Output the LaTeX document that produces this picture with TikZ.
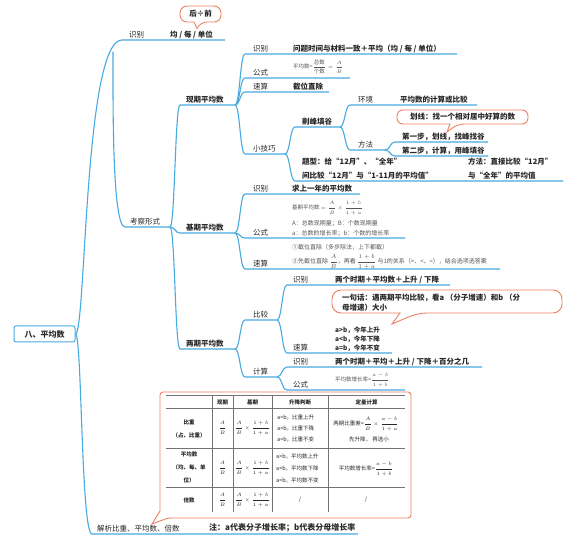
\documentclass[tikz,border=0pt]{standalone}
\usepackage{fontspec}
\usepackage{amsmath}
\setmainfont{Noto Sans CJK SC}
\usetikzlibrary{calc}
\definecolor{mblue}{RGB}{72,170,226}
\definecolor{morange}{RGB}{236,130,100}
\definecolor{tc}{RGB}{40,40,40}
\definecolor{tg}{RGB}{85,85,85}
\begin{document}
\begin{tikzpicture}[x=1pt,y=-1pt,
  ln/.style={draw=mblue,line width=1.1pt},
  br/.style={to path={let \p1=(\tikztostart),\p2=(\tikztotarget) in .. controls ({0.5*\x1+0.5*\x2},\y1) and ({0.5*\x1+0.5*\x2},\y2) .. (\tikztotarget)}},
  lbl/.style={anchor=base west,inner sep=0pt,text=tc,font=\fontsize{7.5}{9}\selectfont},
  lblb/.style={lbl,font=\fontsize{7.5}{9}\selectfont\bfseries},
  cnt/.style={lbl,font=\fontsize{7.5}{9}\selectfont\bfseries},
  sml/.style={lbl,text=tg,font=\fontsize{6}{7}\selectfont},
  co/.style={draw=morange,line width=0.9pt,fill=white},
  tl/.style={draw=black!55,line width=0.6pt},
  tt/.style={inner sep=0pt,text=tc,font=\fontsize{5.5}{6.5}\selectfont},
  ttb/.style={tt,font=\fontsize{5.5}{6.5}\selectfont\bfseries},
]
\useasboundingbox (0,0) rectangle (574,540);
\fill[white] (0,0) rectangle (574,540);

% ---------- root ----------
\node[draw=mblue,line width=1pt,rounded corners=2pt,minimum width=61pt,minimum height=16pt,inner sep=0pt,text=tc,font=\fontsize{8}{9}\selectfont\bfseries] (root) at (44.5,334) {八、平均数};

% ---------- coordinates ----------
\coordinate (t1s) at (122,40);  \coordinate (t1e) at (225,40);
\coordinate (tcor) at (113,52);
\coordinate (k0s) at (125,227); \coordinate (k0e) at (170,227);
\coordinate (j0s) at (92,534);  \coordinate (j0e) at (358,534);
\coordinate (x0s) at (180,105); \coordinate (x0e) at (235,105);
\coordinate (b0s) at (180,233); \coordinate (b0e) at (235,233);
\coordinate (l0s) at (180,349); \coordinate (l0e) at (235,349);
\coordinate (x1s) at (245,54);  \coordinate (x1e) at (457,54);
\coordinate (x2s) at (245,78);  \coordinate (x2e) at (350,78);
\coordinate (x3s) at (245,92);  \coordinate (x3e) at (329,92);
\coordinate (x4s) at (245,154); \coordinate (x4e) at (285,154);
\coordinate (q1s) at (295,127); \coordinate (q1e) at (340,127);
\coordinate (q2s) at (295,181); \coordinate (q2e) at (563,181);
\coordinate (p1s) at (350,105); \coordinate (p1e) at (477,105);
\coordinate (p2s) at (350,150); \coordinate (p2e) at (385,150);
\coordinate (m1s) at (395,142); \coordinate (m1e) at (488,142);
\coordinate (m2s) at (395,156); \coordinate (m2e) at (488,156);
\coordinate (b1s) at (245,194); \coordinate (b1e) at (360,194);
\coordinate (b2s) at (245,238); \coordinate (b2e) at (405,238);
\coordinate (b3s) at (245,269); \coordinate (b3e) at (500,269);
\coordinate (l1s) at (245,320); \coordinate (l1e) at (277,320);
\coordinate (l2s) at (245,377); \coordinate (l2e) at (277,377);
\coordinate (c1s) at (287,285); \coordinate (c1e) at (450,285);
\coordinate (c2s) at (287,353); \coordinate (c2e) at (392,353);
\coordinate (d1s) at (287,367); \coordinate (d1e) at (482,367);
\coordinate (d2s) at (287,390); \coordinate (d2e) at (405,390);

% ---------- connectors ----------
\draw[ln] (root.east) .. controls (86,334) and (84,40) .. (t1s) -- (t1e);
\draw[ln] (tcor) .. controls (113,100) and (112,227) .. (k0s) -- (k0e);
\draw[ln] (root.east) .. controls (82,334) and (81,534) .. (j0s) -- (j0e);
\foreach \a/\b in {x0s/x0e,b0s/b0e,l0s/l0e}{\draw[ln] (k0e) to[br] (\a) -- (\b);}
\foreach \a/\b in {x1s/x1e,x2s/x2e,x3s/x3e,x4s/x4e}{\draw[ln] (x0e) to[br] (\a) -- (\b);}
\foreach \a/\b in {q1s/q1e,q2s/q2e}{\draw[ln] (x4e) to[br] (\a) -- (\b);}
\foreach \a/\b in {p1s/p1e,p2s/p2e}{\draw[ln] (q1e) to[br] (\a) -- (\b);}
\foreach \a/\b in {m1s/m1e,m2s/m2e}{\draw[ln] (p2e) to[br] (\a) -- (\b);}
\foreach \a/\b in {b1s/b1e,b2s/b2e,b3s/b3e}{\draw[ln] (b0e) to[br] (\a) -- (\b);}
\foreach \a/\b in {l1s/l1e,l2s/l2e}{\draw[ln] (l0e) to[br] (\a) -- (\b);}
\foreach \a/\b in {c1s/c1e,c2s/c2e}{\draw[ln] (l1e) to[br] (\a) -- (\b);}
\foreach \a/\b in {d1s/d1e,d2s/d2e}{\draw[ln] (l2e) to[br] (\a) -- (\b);}

% ---------- top branch ----------
\node[lbl] (tA) at (129,37.5) {识别};
\node[cnt] (tB) at (170,37.5) {均 / 每 / 单位};
\draw[co] (200,22) -- (197,28.5) -- (194,22) [rounded corners=7pt] -- (180,22) -- (180,6) -- (221,6) -- (221,22) -- cycle;
\node[inner sep=0pt,text=tc,font=\fontsize{7.5}{9}\selectfont\bfseries] (hq) at (200.5,14) {后÷前};

% ---------- 考察形式 ----------
\node[lbl] (kc) at (130,224.5) {考察形式};
\node[lblb] (xq) at (186,102.5) {现期平均数};
\node[lblb] (jq) at (186,230.5) {基期平均数};
\node[lblb] (lq) at (186,346.5) {两期平均数};

% 现期平均数
\node[lbl] (x1a) at (253,51.5) {识别};
\node[cnt] (x1b) at (293,51.5) {问题时间与材料一致＋平均（均 / 每 / 单位）};
\node[lbl] (x2a) at (253,75.5) {公式};
\node[inner sep=0pt,anchor=west,text=tg,font=\fontsize{5.5}{6.5}\selectfont] (x2b) at (293,67) {平均数=$\dfrac{\mbox{总数}}{\mbox{个数}}=\dfrac{A}{B}$};
\node[lbl] (x3a) at (253,89.5) {速算};
\node[cnt] (x3b) at (293,89.5) {截位直除};
\node[lbl] (x4a) at (253,151.5) {小技巧};
\node[cnt] (q1a) at (302,124.5) {削峰填谷};
\node[cnt] (q2a) at (302,164.5) {题型：给“12月”、“全年”};
\node[cnt] (q2b) at (302,178.5) {间比较“12月”与“1-11月的平均值”};
\node[cnt] (q2c) at (468,164.5) {方法：直接比较“12月”};
\node[cnt] (q2d) at (468,178.5) {与“全年”的平均值};
\node[lbl] (p1a) at (358,102.5) {环境};
\node[cnt] (p1b) at (400,102.5) {平均数的计算或比较};
\draw[co] (458,124) -- (447,132) -- (450,124) [rounded corners=6pt] -- (397,124) -- (397,110) -- (528,110) -- (528,124) -- cycle;
\node[inner sep=0pt,text=tc,font=\fontsize{7.5}{9}\selectfont\bfseries] (hx) at (462.5,117) {划线：找一个相对居中好算的数};
\node[lbl] (p2a) at (358,147.5) {方法};
\node[cnt] (m1a) at (402,139.5) {第一步，划线，找峰找谷};
\node[cnt] (m2a) at (402,153.5) {第二步，计算，用峰填谷};

% 基期平均数
\node[lbl] (b1a) at (253,191.5) {识别};
\node[cnt] (b1b) at (292,191.5) {求上一年的平均数};
\node[lbl] (b2a) at (253,235.5) {公式};
\node[inner sep=0pt,anchor=west,text=tg,font=\fontsize{5.5}{6.5}\selectfont] (b2b) at (292,208) {基期平均数 $=\dfrac{A}{B}\times\dfrac{1+b}{1+a}$};
\node[sml] (b2c) at (292,225.5) {A：总数现期量；B：个数现期量};
\node[sml] (b2d) at (292,235.5) {a：总数的增长率；b：个数的增长率};
\node[lbl] (b3a) at (253,266.5) {速算};
\node[sml] (b3b) at (292,249.5) {①截位直除（多步除法，上下都截）};
\node[inner sep=0pt,anchor=west,text=tg,font=\fontsize{6}{7}\selectfont] (b3c) at (292,262) {②先截位直除 $\dfrac{A}{B}$，再看 $\dfrac{1+b}{1+a}$ 与1的关系（>、<、=），结合选项选答案};

% 两期平均数
\node[lbl] (l1a) at (253,317.5) {比较};
\node[lbl] (l2a) at (253,374.5) {计算};
\node[lbl] (c1a) at (293,282.5) {识别};
\node[cnt] (c1b) at (335,282.5) {两个时期＋平均数＋上升 / 下降};
\draw[co] (418,313) -- (392,324) -- (400,313) [rounded corners=9pt] -- (332,313) -- (332,290) -- (562,290) -- (562,313) -- cycle;
\node[cnt] (yj1) at (342,301) {一句话：遇两期平均比较，看a （分子增速）和b （分};
\node[cnt] (yj2) at (342,311) {母增速）大小};
\node[lbl] (c2a) at (293,350.5) {速算};
\node[lbl,font=\fontsize{6.5}{8}\selectfont\bfseries] (c2b) at (335,332.5) {a>b，今年上升};
\node[lbl,font=\fontsize{6.5}{8}\selectfont\bfseries] (c2c) at (335,341.5) {a<b，今年下降};
\node[lbl,font=\fontsize{6.5}{8}\selectfont\bfseries] (c2d) at (335,350.5) {a=b，今年不变};
\node[lbl] (d1a) at (293,364.5) {识别};
\node[cnt] (d1b) at (335,364.5) {两个时期＋平均＋上升 / 下降＋百分之几};
\node[lbl] (d2a) at (293,387.5) {公式};
\node[inner sep=0pt,anchor=west,text=tg,font=\fontsize{5.5}{6.5}\selectfont] (d2b) at (335,380) {平均数增长率=$\dfrac{a-b}{1+b}$};

% ---------- 解析 ----------
\node[lbl] (ja) at (97,531.5) {解析比重、平均数、倍数};
\node[lbl,font=\fontsize{8}{9}\selectfont\bfseries] (jb) at (209,530.5) {注：a代表分子增长率；b代表分母增长率};

% ---------- table callout ----------
\draw[co] (168,518) -- (152,524) -- (160,511) [rounded corners=3pt] -- (160,392) -- (411,392) -- (411,518) -- cycle;
\foreach \yy in {395,408,448,487}{\draw[tl] (166,\yy) -- (405,\yy);}
\foreach \xx in {212,233,272,328}{\draw[tl] (\xx,395) -- (\xx,512);}
% header
\node[ttb] (h2) at (222.5,402) {现期};
\node[ttb] (h3) at (252.5,402) {基期};
\node[ttb] (h4) at (300,402) {升降判断};
\node[ttb] (h5) at (366.5,402) {定量计算};
% row 1
\node[ttb] (r1a) at (189,422) {比重};
\node[ttb] (r1b) at (189,435) {（占、比重）};
\node[tt] (r1c) at (222.5,428) {$\dfrac{A}{B}$};
\node[tt] (r1d) at (252.5,428) {$\dfrac{A}{B}\times\dfrac{1+b}{1+a}$};
\node[tt,anchor=west] (r1e) at (277,417) {a>b，比重上升};
\node[tt,anchor=west] (r1f) at (277,428) {a<b，比重下降};
\node[tt,anchor=west] (r1g) at (277,439) {a=b，比重不变};
\node[tt] (r1h) at (366,424) {两期比重差=$\dfrac{A}{B}\times\dfrac{a-b}{1+a}$};
\node[tt,anchor=west] (r1i) at (349,439.5) {先升降， 再选小};
% row 2
\node[ttb] (r2a) at (189,454) {平均数};
\node[ttb] (r2b) at (189,467) {（均、每、单};
\node[ttb] (r2c) at (189,480) {位）};
\node[tt] (r2d) at (222.5,468) {$\dfrac{A}{B}$};
\node[tt] (r2e) at (252.5,468) {$\dfrac{A}{B}\times\dfrac{1+b}{1+a}$};
\node[tt,anchor=west] (r2f) at (276,456) {a>b，平均数上升};
\node[tt,anchor=west] (r2g) at (276,468) {a<b，平均数下降};
\node[tt,anchor=west] (r2h) at (276,480) {a=b，平均数不变};
\node[tt] (r2i) at (366,469) {平均数增长率=$\dfrac{a-b}{1+b}$};
% row 3
\node[ttb] (r3a) at (189,500) {倍数};
\node[tt] (r3b) at (222.5,500) {$\dfrac{A}{B}$};
\node[tt] (r3c) at (252.5,500) {$\dfrac{A}{B}\times\dfrac{1+b}{1+a}$};
\node[tt] (r3d) at (300,500) {/};
\node[tt] (r3e) at (366,500) {/};
\end{tikzpicture}
\end{document}
